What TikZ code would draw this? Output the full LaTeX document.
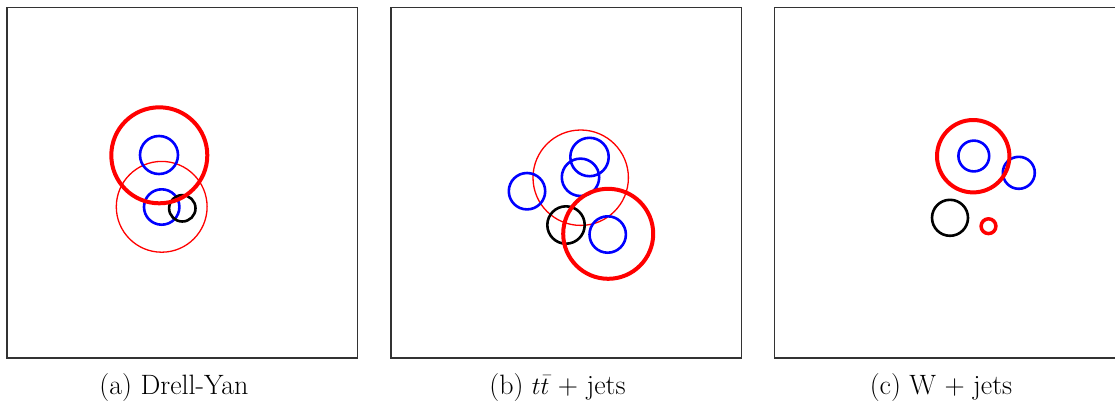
\documentclass[tikz,border=0pt]{standalone}
\begin{document}
\begin{tikzpicture}[x=1pt,y=-1pt,
  panel/.style={draw=black!80,line width=1.2pt},
  thinred/.style={draw=red,line width=1.3pt},
  thickred/.style={draw=red,line width=4pt},
  bluejet/.style={draw=blue,line width=2.6pt},
  blackring/.style={draw=black,line width=2.6pt},
  captext/.style={anchor=base,inner sep=0pt,font=\fontsize{28}{34}\selectfont}]
\useasboundingbox (0,0) rectangle (1115,408);
% panels
\draw[panel] (7,7.3) rectangle (357.7,358);
\draw[panel] (391,7.3) rectangle (741.7,358);
\draw[panel] (774.7,7.3) rectangle (1125.4,358);
% panel (a)
\draw[thinred] (161.7,206.8) circle[radius=45.4];
\draw[bluejet] (159,155) circle[radius=19];
\draw[bluejet] (161.7,207) circle[radius=17.7];
\draw[blackring] (182.3,208.3) circle[radius=13.2];
\draw[thickred] (159.3,155.3) circle[radius=48];
% panel (b)
\draw[thinred] (580.7,177.7) circle[radius=47.7];
\draw[bluejet] (589.5,157) circle[radius=19.2];
\draw[bluejet] (580.5,177.3) circle[radius=18.7];
\draw[bluejet] (527,191.2) circle[radius=18.2];
\draw[bluejet] (607.7,234.5) circle[radius=18.2];
\draw[blackring] (566,225) circle[radius=18.7];
\draw[thickred] (608.2,233.8) circle[radius=45];
% panel (c)
\draw[bluejet] (973.8,156) circle[radius=15.4];
\draw[bluejet] (1018.8,172.8) circle[radius=16];
\draw[blackring] (950,217.8) circle[radius=18];
\draw[thickred] (973.2,156.2) circle[radius=36.2];
\draw[red,line width=3.5pt] (988.5,226.2) circle[radius=7.4];
% captions
\node[captext] (capa) at (174,394.3) {(a) Drell-Yan};
\node[captext] (capb) at (557.5,394.3) {(b) $t\bar{t}$ + jets};
\node[captext] (capc) at (941,394.3) {(c) W + jets};
\end{tikzpicture}
\end{document}
